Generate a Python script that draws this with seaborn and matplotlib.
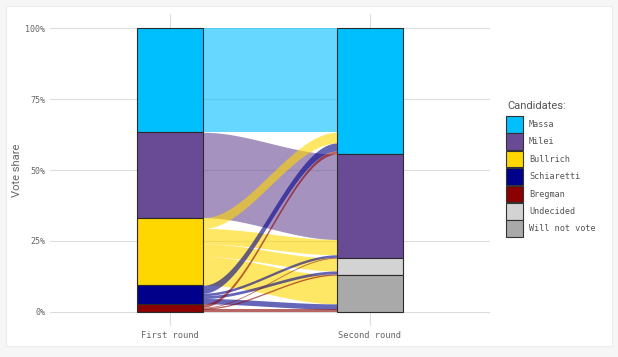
import numpy as np
import matplotlib as mpl
mpl.use('Agg')

import matplotlib.pyplot as plt
import seaborn as sns
from matplotlib.patches import Rectangle

# first-round and second-round vote shares (%)
first_names = ["Massa", "Milei", "Bullrich", "Schiaretti", "Bregman"]
first_share = [36.7, 30.1, 23.8, 6.6, 2.8]
second_names = ["Massa", "Milei", "Undecided", "Will not vote"]
second_share = [44.4, 36.7, 6.0, 12.9]

# flows between rounds (%)
flow_from = ["Massa", "Milei",
             "Bullrich", "Bullrich", "Bullrich", "Bullrich",
             "Schiaretti", "Schiaretti", "Schiaretti", "Schiaretti",
             "Bregman", "Bregman", "Bregman", "Bregman"]
flow_to = ["Massa", "Milei",
           "Massa", "Milei", "Undecided", "Will not vote",
           "Massa", "Milei", "Undecided", "Will not vote",
           "Massa", "Milei", "Undecided", "Will not vote"]
flow_share = [36.7, 30.1,
              3.8, 5.4, 4.5, 10.1,
              2.8, 0.9, 1.0, 1.9,
              1.1, 0.3, 0.5, 0.9]

legend_names = ["Massa", "Milei", "Bullrich", "Schiaretti", "Bregman",
                "Undecided", "Will not vote"]
palette = {"Massa": "#00BFFF", "Milei": "#694A94", "Bullrich": "#FFD700",
           "Schiaretti": "#00008B", "Bregman": "#8B0000",
           "Undecided": "#D3D3D3", "Will not vote": "#A9A9A9"}

MONO = "DejaVu Sans Mono"
W, H = 618, 357
width = 1 / 3


def stack_tops(names, shares):
    tops = {}
    top = 1.0
    for n, s in zip(names, shares):
        tops[n] = top
        top -= s / 100
    return tops


def flow_positions():
    # left side: inside each source stratum, order flows by target
    left_top = stack_tops(first_names, first_share)
    right_top = stack_tops(second_names, second_share)
    idx = range(len(flow_share))
    left = {}
    for s in first_names:
        cur = left_top[s]
        for i in sorted([i for i in idx if flow_from[i] == s],
                        key=lambda i: second_names.index(flow_to[i])):
            left[i] = (cur, cur - flow_share[i] / 100)
            cur -= flow_share[i] / 100
    # right side: inside each target stratum, order flows by source
    right = {}
    for t in second_names:
        cur = right_top[t]
        for i in sorted([i for i in idx if flow_to[i] == t],
                        key=lambda i: first_names.index(flow_from[i])):
            right[i] = (cur, cur - flow_share[i] / 100)
            cur -= flow_share[i] / 100
    return left, right


def px_rect(fig, x, y, w, h, **kw):
    # rectangle given in pixels from the top-left corner
    r = Rectangle((x / W, 1 - (y + h) / H), w / W, h / H,
                  transform=fig.transFigure, **kw)
    fig.patches.append(r)
    return r


def main():
    sns.set_theme(style="whitegrid")
    fig = plt.figure(figsize=(W / 100, H / 100), dpi=100, facecolor="#f6f6f6")
    px_rect(fig, 6, 6, 606, 340, facecolor="white", edgecolor="#ececec",
            lw=0.8, zorder=-10)
    ax = fig.add_axes([50 / W, 1 - 326 / H, 440 / W, 312 / H])
    ax.set_facecolor("none")

    # flows
    left, right = flow_positions()
    xs = np.linspace(1 + width / 2, 2 - width / 2, 200)
    t = (xs - xs[0]) / (xs[-1] - xs[0])
    s = t * t * (3 - 2 * t)
    for i in range(len(flow_share)):
        (lt, lb), (rt, rb) = left[i], right[i]
        top = lt + (rt - lt) * s
        bot = lb + (rb - lb) * s
        ax.fill_between(xs, bot, top, color=palette[flow_from[i]],
                        alpha=0.6, lw=0, zorder=2)

    # strata
    for x, names, shares in [(1, first_names, first_share),
                             (2, second_names, second_share)]:
        tops = stack_tops(names, shares)
        for n, sh in zip(names, shares):
            ax.bar(x, sh / 100, bottom=tops[n] - sh / 100, width=width,
                   color=palette[n], edgecolor="#2b2b2b", lw=0.8, zorder=3)

    ax.set_xlim(0.4, 2.6)
    ax.set_ylim(-0.05, 1.05)
    ax.set_xticks([1, 2])
    ax.set_xticklabels(["First round", "Second round"], family=MONO,
                       fontsize=6.3, color="#666666")
    ax.set_yticks([0, 0.25, 0.5, 0.75, 1])
    ax.set_yticklabels(["0%", "25%", "50%", "75%", "100%"], family=MONO,
                       fontsize=6, color="#666666")
    ax.tick_params(length=0, pad=3.5)
    ax.grid(True, color="#dddddd", lw=0.8)
    for sp in ax.spines.values():
        sp.set_visible(False)
    ax.set_ylabel("Vote share", fontsize=8, color="#666666", family="Roboto",
                  labelpad=2)
    ax.set_xlabel("")

    # legend
    fig.text(507 / W, 1 - 106 / H, "Candidates:", family="Roboto", fontsize=8,
             color="#555555", va="center", ha="left")
    for k, n in enumerate(legend_names):
        y0 = 116 + k * 17.4
        px_rect(fig, 506, y0, 16.5, 16.5, facecolor=palette[n],
                edgecolor="#333333", lw=0.8)
        fig.text(529 / W, 1 - (y0 + 8.5) / H, n, family=MONO, fontsize=6.1,
                 color="#555555", va="center", ha="left")

    plt.savefig("out.png", dpi=100, facecolor=fig.get_facecolor())
    plt.close()


if __name__ == "__main__":
    main()
